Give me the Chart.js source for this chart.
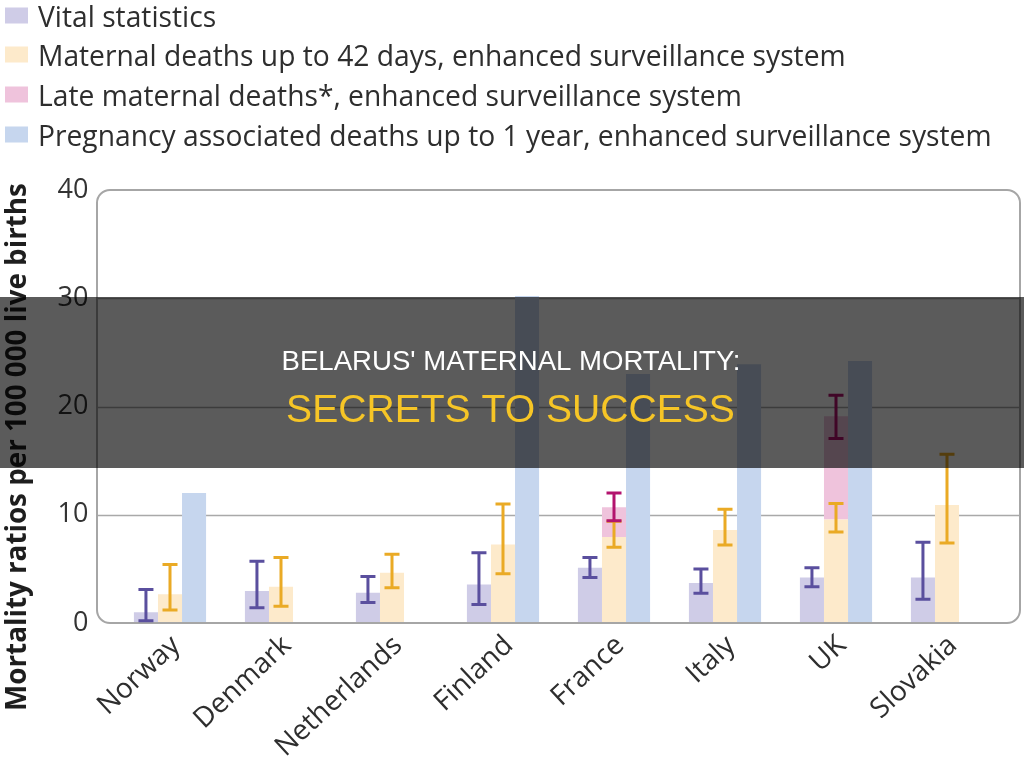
<!DOCTYPE html>
<html><head><meta charset="utf-8">
<script src="https://cdn.jsdelivr.net/npm/chart.js@4.4.0/dist/chart.umd.min.js"></script>
<style>
html,body{margin:0;padding:0;background:#fff;width:1024px;height:761px;overflow:hidden;}
#wrap{position:relative;width:1024px;height:761px;}
</style></head>
<body><div id="wrap"><canvas id="c" width="1024" height="761"></canvas></div>
<script>
const categories = ['Norway','Denmark','Netherlands','Finland','France','Italy','UK','Slovakia'];
const seriesNames = ['Vital statistics','Maternal deaths up to 42 days, enhanced surveillance system','Late maternal deaths*, enhanced surveillance system','Pregnancy associated deaths up to 1 year, enhanced surveillance system'];
const vital       = [1.0, 2.95, 2.8, 3.55, 5.1, 3.7, 4.2, 4.2];
const vitalLow    = [0.2, 1.4, 1.9, 1.7, 4.2, 2.75, 3.35, 2.2];
const vitalHigh   = [3.1, 5.7, 4.3, 6.5, 6.05, 5.0, 5.1, 7.45];
const maternal     = [2.65, 3.35, 4.65, 7.25, 7.95, 8.6, 9.55, 10.9];
const maternalLow  = [1.2, 1.55, 3.25, 4.55, 7.0, 7.2, 8.4, 7.4];
const maternalHigh = [5.4, 6.05, 6.35, 11.0, 9.4, 10.5, 11.05, 15.6];
const late     = [null, null, null, null, 2.75, null, 9.55, null];
const lateLow  = [null, null, null, null, 9.45, null, 17.05, null];
const lateHigh = [null, null, null, null, 12.0, null, 21.05, null];
const pregnancy = [12.0, null, null, 30.2, 23.0, 23.9, 24.2, null];
const yTicks = [0, 10, 20, 30, 40];
const yTitle = 'Mortality ratios per 100 000 live births';
const bannerLine1 = "BELARUS' MATERNAL MORTALITY:";
const bannerLine2 = 'SECRETS TO SUCCESS';

const fillColors = ['#cfcce7', '#fdeacb', '#efc3dc', '#c6d6ee'];
const errColors = ['#5a4f9e', '#eaaa25', '#b3136e'];

function fitSize(ctx, text, weight, family, target) {
  ctx.font = weight + ' 100px ' + family;
  return 100 * target / ctx.measureText(text).width;
}

const decor = {
  id: 'decor',
  beforeDatasetsDraw(chart) {
    const ctx = chart.ctx, y = chart.scales.y;
    ctx.save();
    ctx.strokeStyle = '#a9a9a9';
    ctx.lineWidth = 1.5;
    [10, 20, 30].forEach(v => {
      const py = Math.round(y.getPixelForValue(v)) + 0.5;
      ctx.beginPath(); ctx.moveTo(97, py); ctx.lineTo(1020, py); ctx.stroke();
    });
    ctx.restore();
  },
  afterDatasetsDraw(chart) {
    const ctx = chart.ctx, y = chart.scales.y;
    const top = y.getPixelForValue(40), bot = y.getPixelForValue(0), l = 97, r = 1020, rad = 13;
    ctx.save();
    ctx.strokeStyle = '#a6a6a6'; ctx.lineWidth = 2;
    ctx.beginPath();
    ctx.moveTo(l + rad, top); ctx.lineTo(r - rad, top); ctx.arcTo(r, top, r, top + rad, rad);
    ctx.lineTo(r, bot - rad); ctx.arcTo(r, bot, r - rad, bot, rad);
    ctx.lineTo(l + rad, bot); ctx.arcTo(l, bot, l, bot - rad, rad);
    ctx.lineTo(l, top + rad); ctx.arcTo(l, top, l + rad, top, rad);
    ctx.closePath(); ctx.stroke();
    const errs = [[0, vitalLow, vitalHigh], [1, maternalLow, maternalHigh], [2, lateLow, lateHigh]];
    errs.forEach(([di, lo, hi]) => {
      const meta = chart.getDatasetMeta(di);
      ctx.strokeStyle = errColors[di]; ctx.lineWidth = 3;
      meta.data.forEach((el, i) => {
        if (lo[i] == null) return;
        const x = el.x, y1 = y.getPixelForValue(lo[i]), y2 = y.getPixelForValue(hi[i]);
        ctx.beginPath();
        ctx.moveTo(x, y1); ctx.lineTo(x, y2);
        ctx.moveTo(x - 7.5, y1); ctx.lineTo(x + 7.5, y1);
        ctx.moveTo(x - 7.5, y2); ctx.lineTo(x + 7.5, y2);
        ctx.stroke();
      });
    });
    ctx.restore();
  },
  afterDraw(chart) {
    const ctx = chart.ctx;
    ctx.save();
    const fam = "'Open Sans'";
    const ls = fitSize(ctx, seriesNames[3], '400', fam, 954);
    ctx.font = '400 ' + ls + 'px ' + fam;
    ctx.textBaseline = 'alphabetic'; ctx.textAlign = 'left';
    const base = [26.5, 65.5, 105.5, 145.5];
    seriesNames.forEach((t, i) => {
      ctx.fillStyle = fillColors[i];
      ctx.fillRect(5, base[i] - 19, 23, 16);
      ctx.fillStyle = '#2e2e2e';
      ctx.fillText(t, 38, base[i]);
    });
    const ts = fitSize(ctx, yTitle, '700', fam, 528);
    ctx.font = '700 ' + ts + 'px ' + fam;
    ctx.translate(18, 447); ctx.rotate(-Math.PI / 2);
    ctx.textAlign = 'center'; ctx.textBaseline = 'middle'; ctx.fillStyle = '#1e1e1e';
    ctx.fillText(yTitle, 0, 0);
    ctx.setTransform(1, 0, 0, 1, 0, 0);
    ctx.fillStyle = 'rgba(0,0,0,0.645)';
    ctx.fillRect(0, 297, 1024, 171);
    const bf = "'Liberation Sans', Arial, sans-serif";
    ctx.textAlign = 'center'; ctx.textBaseline = 'alphabetic';
    const s1 = fitSize(ctx, bannerLine1, '400', bf, 459);
    ctx.font = '400 ' + s1 + 'px ' + bf; ctx.fillStyle = '#ffffff';
    ctx.fillText(bannerLine1, 511, 370);
    const s2 = fitSize(ctx, bannerLine2, '400', bf, 449);
    ctx.font = '400 ' + s2 + 'px ' + bf; ctx.fillStyle = '#f6c526';
    ctx.fillText(bannerLine2, 510.5, 421.5);
    ctx.restore();
  }
};

new Chart(document.getElementById('c'), {
  type: 'bar',
  data: {
    labels: categories,
    datasets: [
      { label: seriesNames[0], data: vital, backgroundColor: fillColors[0], stack: 'a' },
      { label: seriesNames[1], data: maternal, backgroundColor: fillColors[1], stack: 'b' },
      { label: seriesNames[2], data: late, backgroundColor: fillColors[2], stack: 'b' },
      { label: seriesNames[3], data: pregnancy, backgroundColor: fillColors[3], stack: 'c' }
    ]
  },
  options: {
    responsive: false,
    animation: false,
    devicePixelRatio: 1,
    layout: { padding: { top: 190, right: 21.5, left: 0, bottom: 0 } },
    datasets: { bar: { barPercentage: 1.0, categoryPercentage: 0.65, borderWidth: 0 } },
    plugins: { legend: { display: false }, tooltip: { enabled: false }, title: { display: false } },
    scales: {
      x: {
        stacked: true,
        grid: { display: false, drawTicks: false },
        border: { display: false },
        ticks: { color: '#2e2e2e', font: { family: "'Open Sans'", size: 28 }, maxRotation: 43, minRotation: 43, padding: 6, labelOffset: 6, autoSkip: false },
        afterFit: s => { s.height = 138; }
      },
      y: {
        stacked: true, min: 0, max: 40,
        afterBuildTicks: s => { s.ticks = yTicks.map(v => ({ value: v })); },
        grid: { display: false, drawTicks: false },
        border: { display: false },
        ticks: { color: '#333', font: { family: "'Open Sans'", size: 27 }, padding: 26 },
        afterFit: s => { s.width = 114.5; }
      }
    }
  },
  plugins: [decor]
});
</script></body></html>
